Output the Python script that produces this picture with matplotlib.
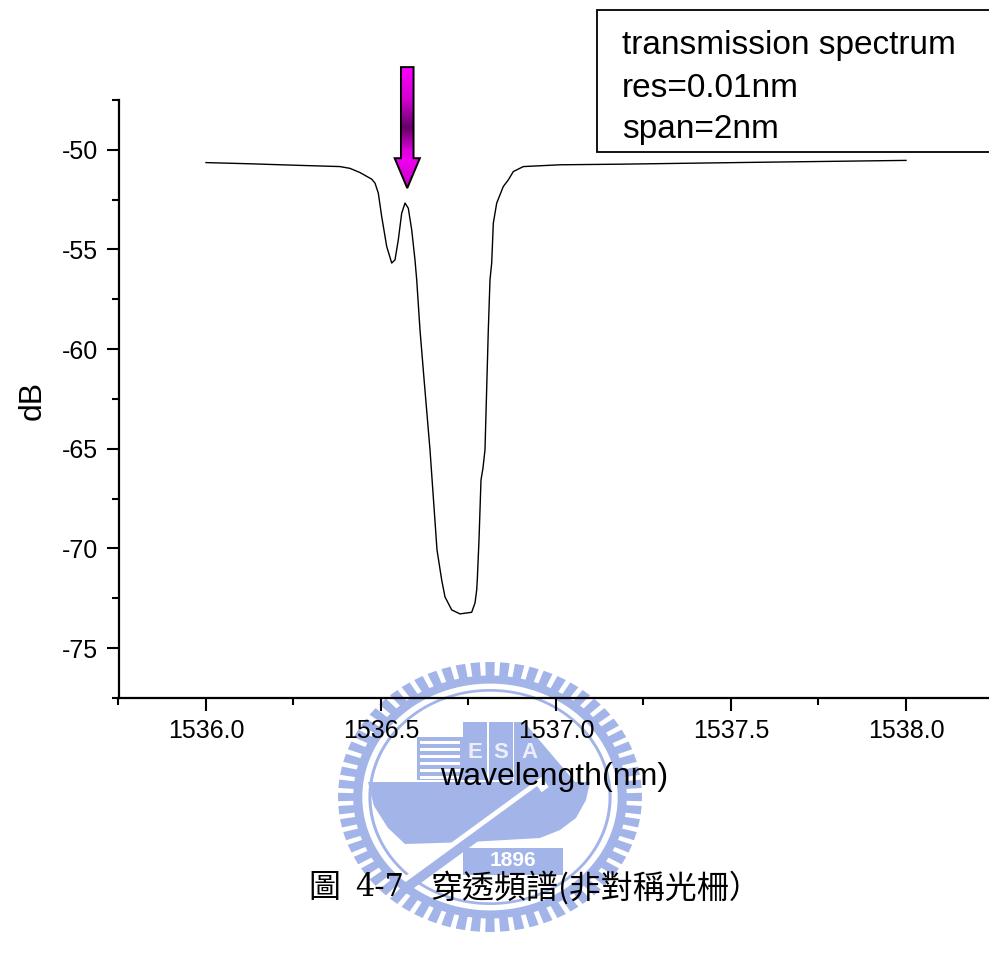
import numpy as np
import matplotlib
matplotlib.use("Agg")
import matplotlib.pyplot as plt
from matplotlib.patches import Polygon, Rectangle
from matplotlib.ticker import MultipleLocator, FixedLocator, FormatStrFormatter
from matplotlib.colors import LinearSegmentedColormap

plt.rcParams["axes.unicode_minus"] = False
plt.rcParams["font.family"] = ["Liberation Sans", "DejaVu Sans"]

# ---- measured transmission spectrum ----
wavelength_nm = [
    1536.0000, 1536.1257, 1536.2686, 1536.3829, 1536.4114, 1536.4400, 1536.4734,
    1536.4829, 1536.4923, 1536.5020, 1536.5163, 1536.5306, 1536.5400, 1536.5494,
    1536.5591, 1536.5686, 1536.5780, 1536.5877, 1536.5971, 1536.6020, 1536.6114,
    1536.6229, 1536.6400, 1536.6600, 1536.6734, 1536.6829, 1536.7020, 1536.7257,
    1536.7591, 1536.7686, 1536.7734, 1536.7751, 1536.7800, 1536.7857, 1536.7914,
    1536.7971, 1536.8066, 1536.8114, 1536.8163, 1536.8209, 1536.8306, 1536.8494,
    1536.8637, 1536.8780, 1536.9066, 1537.0114, 1537.1829, 1537.5543, 1538.0000,
]
power_db = [
    -50.64, -50.70, -50.78, -50.84, -50.93, -51.14, -51.47,
    -51.67, -52.17, -53.35, -54.85, -55.68, -55.52, -54.52,
    -53.18, -52.67, -52.93, -54.01, -55.52, -56.52, -59.03,
    -61.49, -65.05, -70.07, -71.58, -72.43, -73.08, -73.28,
    -73.20, -72.73, -72.08, -71.58, -69.57, -66.56, -65.96,
    -65.05, -59.03, -56.52, -55.67, -53.68, -52.67, -51.84,
    -51.51, -51.09, -50.84, -50.75, -50.72, -50.63, -50.53,
]

x_ticks = [1536.0, 1536.5, 1537.0, 1537.5, 1538.0]
y_ticks = [-75, -70, -65, -60, -55, -50]
x_limits = (1535.75, 1538.25)
y_limits = (-77.5, -47.5)

info_lines = ["transmission spectrum", "res=0.01nm", "span=2nm"]
x_title = "wavelength(nm)"
y_title = "dB"
caption_parts = ["圖", "4-7", "穿透頻譜(非對稱光柵）"]
emblem_year = "1896"

# side-lobe peak pointed out by the arrow
marker_wavelength = 1536.575
marker_level = -51.92

W, H = 989, 956
fig = plt.figure(figsize=(W / 100, H / 100), dpi=100)


def fx(px):
    return px / W


def fy(py):
    return 1 - py / H


# ---------------- background emblem (drawn in pixel space) ----------------
bg = fig.add_axes([0, 0, 1, 1], zorder=0)
bg.set_xlim(0, W)
bg.set_ylim(H, 0)
bg.axis("off")

blue = "#a3b4e9"
cx, cy, rx, ry = 490, 797, 152, 135


def ell(r, t):
    return cx + rx * r * np.cos(t), cy - ry * r * np.sin(t)


n_teeth = 64
half = 0.32 * (2 * np.pi / n_teeth)
for k in range(n_teeth):
    t = 2 * np.pi * k / n_teeth
    pts = [ell(0.86, t - half), ell(1.0, t - half), ell(1.0, t + half), ell(0.86, t + half)]
    bg.add_patch(Polygon(pts, closed=True, color=blue, lw=0))
ts = np.linspace(0, 2 * np.pi, 200)
band = [ell(0.90, t) for t in ts] + [ell(0.84, t) for t in ts[::-1]]
bg.add_patch(Polygon(band, closed=True, color=blue, lw=0))
ring = [ell(0.80, t) for t in ts] + [ell(0.78, t) for t in ts[::-1]]
bg.add_patch(Polygon(ring, closed=True, color=blue, lw=0))

# building block with striped wing
bg.add_patch(Rectangle((417, 737), 46, 43, color=blue, lw=0))
for yy in range(741, 780, 7):
    bg.add_patch(Rectangle((420, yy), 40, 2.5, color="white", lw=0))
bg.add_patch(Rectangle((463, 722), 24, 58, color=blue, lw=0))
bg.add_patch(Rectangle((489, 722), 24, 58, color=blue, lw=0))
bg.add_patch(Polygon([(514, 722), (524, 722), (575, 782), (514, 782)], closed=True, color=blue, lw=0))
for letter, lx in (("E", 475), ("S", 501), ("A", 530)):
    bg.text(lx, 752, letter, color="white", ha="center", va="center",
            fontsize=16, fontweight="bold", alpha=0.8)
# base mass
base = [(368, 782), (590, 782), (586, 800), (576, 818), (560, 830), (540, 838),
        (470, 842), (405, 844), (388, 828), (374, 806)]
bg.add_patch(Polygon(base, closed=True, color=blue, lw=0))
# diagonal bar
bg.plot([408, 545], [882, 782], color="white", lw=9, solid_capstyle="butt")
bg.plot([403, 540], [890, 790], color=blue, lw=7, solid_capstyle="butt")
# year plate
bg.add_patch(Rectangle((463, 848), 100, 27, color=blue, lw=0))
bg.text(513, 861, emblem_year, color="white", ha="center", va="center",
        fontsize=15, fontweight="bold")

# ---------------- main plot ----------------
x0_px, x1_px = 206, 906          # pixel positions of 1536.0 and 1538.0
px_per_nm = (x1_px - x0_px) / (x_ticks[-1] - x_ticks[0])
left_px = x0_px - (x_ticks[0] - x_limits[0]) * px_per_nm
right_px = x0_px + (x_limits[1] - x_ticks[0]) * px_per_nm
top_px, bottom_px = 100, 698

ax = fig.add_axes([fx(left_px), fy(bottom_px), (right_px - left_px) / W,
                   (bottom_px - top_px) / H], zorder=1)
ax.patch.set_alpha(0)

ax.plot(wavelength_nm, power_db, color="black", lw=1.0)

ax.set_xlim(*x_limits)
ax.set_ylim(*y_limits)
ax.xaxis.set_major_locator(FixedLocator(x_ticks))
ax.yaxis.set_major_locator(FixedLocator(y_ticks))
ax.xaxis.set_minor_locator(MultipleLocator(0.25))
ax.yaxis.set_minor_locator(MultipleLocator(2.5))
ax.xaxis.set_major_formatter(FormatStrFormatter("%.1f"))
ax.yaxis.set_major_formatter(FormatStrFormatter("%d"))

for side in ("top", "right"):
    ax.spines[side].set_visible(False)
for side in ("left", "bottom"):
    ax.spines[side].set_linewidth(1.6)
ax.tick_params(which="major", direction="out", length=9, width=1.5,
               labelsize=18, pad=6)
ax.tick_params(which="minor", direction="out", length=5, width=1.5)

fig.text(fx(554), fy(785), x_title, fontsize=23, ha="center", va="baseline")
fig.text(fx(33), fy(400), y_title, fontsize=23, ha="center", va="center",
         rotation=90)

# gradient arrow pointing at the side-lobe peak
shaft_half, head_half = 0.018, 0.036
head_len, arrow_top = 1.50, -45.85
base_y = marker_level + head_len
arrow_pts = [
    (marker_wavelength - shaft_half, arrow_top),
    (marker_wavelength + shaft_half, arrow_top),
    (marker_wavelength + shaft_half, base_y),
    (marker_wavelength + head_half, base_y),
    (marker_wavelength, marker_level),
    (marker_wavelength - head_half, base_y),
    (marker_wavelength - shaft_half, base_y),
]
arrow_cmap = LinearSegmentedColormap.from_list(
    "arrow",
    [(0.0, "#c400c4"), (0.23, "#f000f0"), (0.31, "#dc00dc"),
     (0.50, "#660066"), (0.73, "#d000d0"), (1.0, "#ff00ff")],
)
grad = np.linspace(0, 1, 256).reshape(-1, 1)
outline = Polygon(arrow_pts, closed=True, facecolor="none", edgecolor="black",
                  lw=1.4, zorder=4, clip_on=False)
ax.add_patch(outline)
im = ax.imshow(grad, extent=[marker_wavelength - head_half, marker_wavelength + head_half,
                             marker_level, arrow_top],
               origin="lower", aspect="auto", cmap=arrow_cmap, zorder=3,
               interpolation="bilinear")
im.set_clip_path(outline)
im.set_clip_box(fig.bbox)
ax.set_xlim(*x_limits)
ax.set_ylim(*y_limits)

# info box
fig.patches.append(Rectangle((fx(597), fy(152)), (W + 10 - 597) / W, (152 - 10) / H,
                             transform=fig.transFigure, facecolor="white",
                             edgecolor="black", lw=1.3, zorder=2))
for line, base_px in zip(info_lines, (54, 97, 138)):
    fig.text(fx(622), fy(base_px), line, fontsize=24, ha="left", va="baseline", zorder=5)

# caption
cjk = ["Noto Sans CJK TC", "DejaVu Sans"]
cap_y = 888
fig.text(fx(308), fy(cap_y), caption_parts[0], fontsize=23, family=cjk, va="center")
fig.text(fx(355), fy(cap_y), caption_parts[1], fontsize=22, family=["DejaVu Serif"], va="center")
fig.text(fx(430), fy(cap_y), caption_parts[2], fontsize=23, family=cjk, va="center")

fig.savefig("out.png", dpi=100)
